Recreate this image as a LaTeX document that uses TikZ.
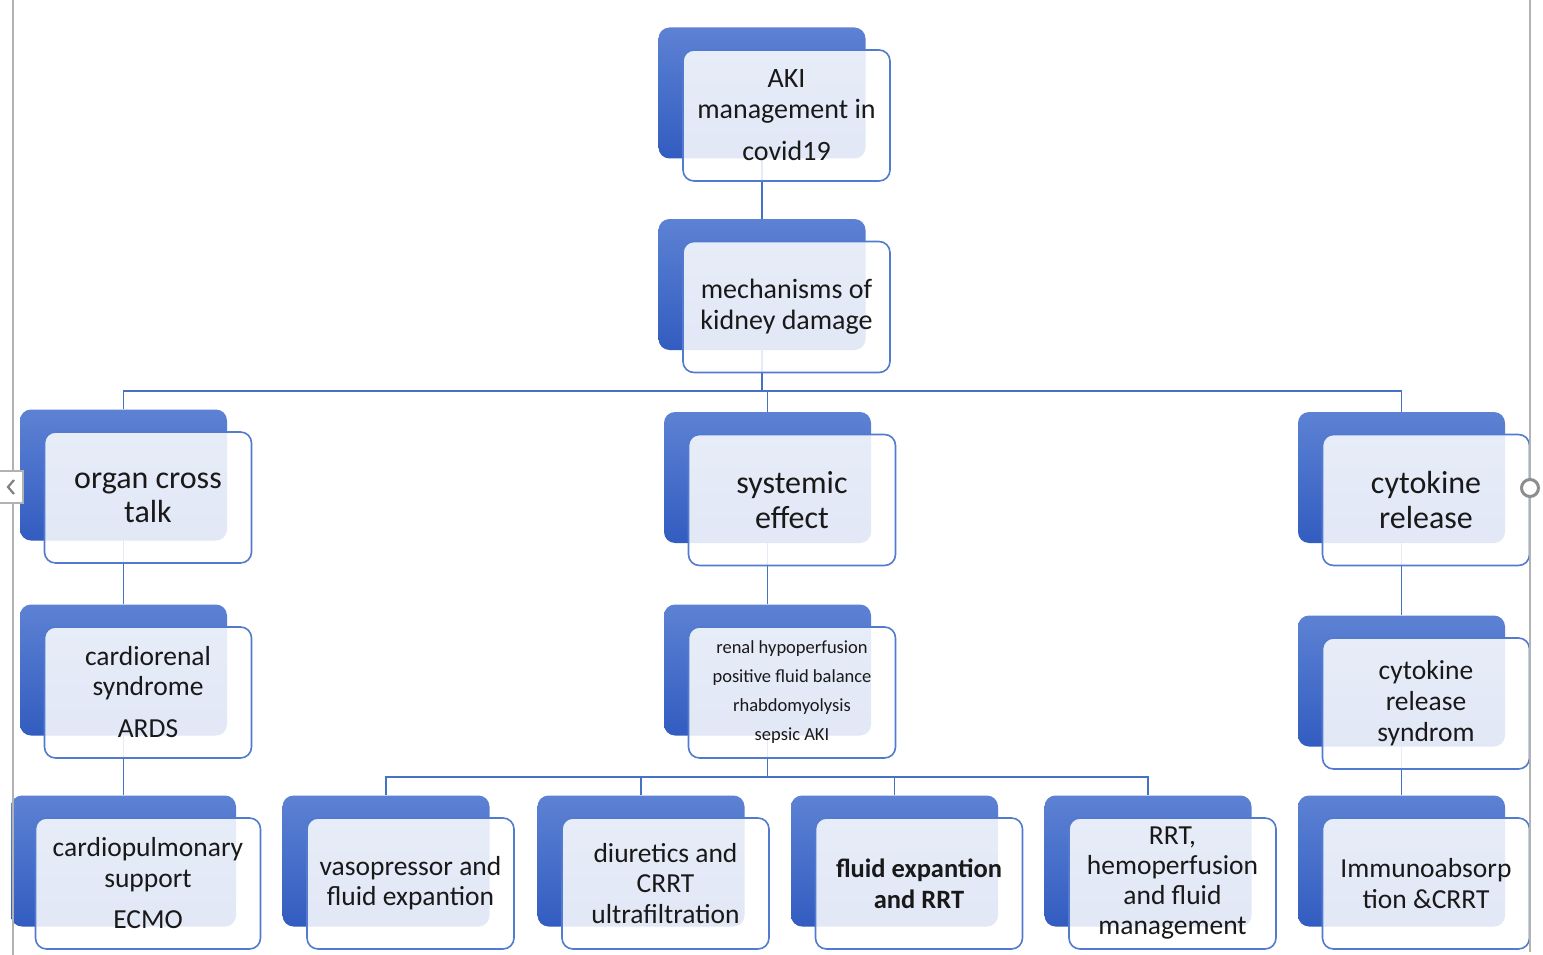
\documentclass[tikz,border=0pt]{standalone}
\usepackage{fontspec}
\setmainfont{Carlito}
\definecolor{bktop}{RGB}{93,130,212}
\definecolor{bkbot}{RGB}{50,92,192}
\definecolor{fbord}{RGB}{82,122,206}
\definecolor{conn}{RGB}{68,114,196}
\definecolor{uigray}{RGB}{178,178,178}
\pgfdeclarelayer{bg}
\pgfdeclarelayer{canvas}
\pgfsetlayers{canvas,bg,main}
\tikzset{
  backbox/.style={rounded corners=11pt, top color=bktop, bottom color=bkbot, draw=none,
    inner sep=0pt, minimum width=207pt, minimum height=131pt},
  frontbox/.style={rounded corners=11pt, fill=white, fill opacity=0.86, draw=fbord,
    line width=1.6pt, inner sep=0pt, minimum width=207pt, minimum height=131pt},
  txt/.style={align=center, inner sep=0pt, text=black!90},
  conline/.style={draw=conn, line width=1.8pt},
  uiline/.style={draw=uigray, line width=2pt},
}
\newcommand\boxpair[6][207]{%
  \node[backbox, minimum width=#1pt] (#2b) at (#3,#4) {};
  \node[frontbox, minimum width=#1pt] (#2) at ([shift={(24.5,22.5)}]#2b.center) {};
  \node[txt, font={#5}] (#2t) at (#2.center) {#6};
}
\begin{document}
\begin{tikzpicture}[x=1pt,y=-1pt]
\begin{pgfonlayer}{canvas}
  \fill[white] (0,0) rectangle (1543,955);
\end{pgfonlayer}
\useasboundingbox (0,0) rectangle (1543,955);

\boxpair{aki}{762}{93}{\fontsize{28}{31}\selectfont}{AKI\\management in\\[11pt]covid19}
\boxpair{mech}{762}{284.5}{\fontsize{28}{31}\selectfont}{mechanisms of\\kidney damage}
\boxpair{org}{123.5}{475}{\fontsize{32}{34}\selectfont}{organ cross\\talk}
\boxpair{sys}{767.5}{477.5}{\fontsize{32}{35}\selectfont}{systemic\\effect}
\boxpair{cyto}{1401.5}{477.5}{\fontsize{32}{35}\selectfont}{cytokine\\release}
\boxpair{card}{123.5}{670}{\fontsize{27.5}{30}\selectfont}{cardiorenal\\syndrome\\[12pt]ARDS}
\boxpair{ren}{767.5}{670}{\fontsize{18.5}{29}\selectfont}{renal hypoperfusion\\positive fluid balance\\rhabdomyolysis\\sepsic AKI}
\boxpair{syn}{1401.5}{681}{\fontsize{27.5}{31}\selectfont}{cytokine\\release\\syndrom}
\boxpair[225]{cp}{123.5}{861}{\fontsize{27.5}{31}\selectfont}{cardiopulmonary\\support\\[10pt]ECMO}
\boxpair{vas}{386}{861}{\fontsize{27.5}{30}\selectfont}{vasopressor and\\fluid expantion}
\boxpair{diu}{641}{861}{\fontsize{27.5}{30.5}\selectfont}{diuretics and\\CRRT\\ultrafiltration}
\boxpair{flu}{894.5}{861}{\fontsize{26.5}{31}\selectfont\bfseries}{fluid expantion\\and RRT}
\boxpair{rrt}{1148}{861}{\fontsize{27.5}{30}\selectfont}{RRT,\\hemoperfusion\\and fluid\\management}
\boxpair{imm}{1401.5}{861}{\fontsize{27.5}{31}\selectfont}{Immunoabsorp\\tion \&CRRT}

\begin{pgfonlayer}{bg}
  \coordinate (bus1) at (762,391);
  \coordinate (bus2) at (767.5,777);
  \draw[conline] (akib.center) -- (mechb.north);
  \draw[conline] (mechb.center) -- (bus1);
  \draw[conline] (orgb.north) |- (bus1);
  \draw[conline] (cytob.north) |- (bus1);
  \draw[conline] (sysb.north) -- (sysb.north |- bus1);
  \draw[conline] (orgb.center) -- (cardb.north);
  \draw[conline] (cardb.center) -- (cpb.north);
  \draw[conline] (sysb.center) -- (renb.north);
  \draw[conline] (renb.center) -- (bus2);
  \draw[conline] (vasb.north) |- (bus2);
  \draw[conline] (diub.north) |- (bus2);
  \draw[conline] (flub.north) |- (bus2);
  \draw[conline] (rrtb.north) |- (bus2);
  \draw[conline] (cytob.center) -- (synb.north);
  \draw[conline] (synb.center) -- (immb.north);
\end{pgfonlayer}

% side lines and handles
\coordinate (lt) at (13,0);
\coordinate (lb) at (13,955);
\coordinate (rt) at (1530,0);
\coordinate (rb) at (1530,952);
\draw[uiline] (lt) -- (lb);
\draw[uiline] (rt) -- (rb);
\node[draw=uigray, fill=white, line width=1.5pt, minimum width=24pt, minimum height=32pt,
  inner sep=0pt] (tab) at (11,487) {};
\draw[draw=gray, line width=2.2pt] ([shift={(3,-7)}]tab.center) -- ([shift={(-3,0)}]tab.center) -- ([shift={(3,7)}]tab.center);
\node[circle, draw=uigray!80!black, fill=white, line width=3pt, minimum size=17pt, inner sep=0pt] (handle) at (1530,488) {};
\end{tikzpicture}
\end{document}
